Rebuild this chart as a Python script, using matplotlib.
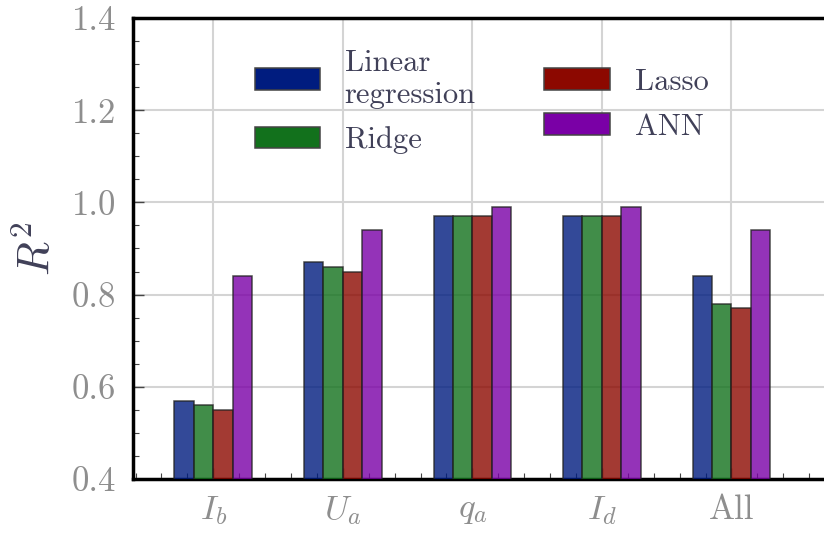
import matplotlib
matplotlib.use("Agg")
import numpy as np
import matplotlib.pyplot as plt
from matplotlib.ticker import MultipleLocator, FormatStrFormatter

# ====================================
# Data
# ====================================

categories = [r"$I_b$", r"$U_a$", r"$q_a$", r"$I_d$", "All"]

linear_r2 = [0.57, 0.87, 0.97, 0.97, 0.84]
ridge_r2 = [0.56, 0.86, 0.97, 0.97, 0.78]
lasso_r2 = [0.55, 0.85, 0.97, 0.97, 0.77]
ann_r2 = [0.84, 0.94, 0.99, 0.99, 0.94]

model_names = ["Linear\nregression", "Ridge", "Lasso", "ANN"]
model_colors = ["#001c7f", "#12711c", "#8c0800", "#7a00a6"]

# ====================================
# Style
# ====================================

plt.rcParams["font.family"] = "cmr10"
plt.rcParams["mathtext.fontset"] = "cm"
plt.rcParams["axes.unicode_minus"] = False
plt.rcParams["axes.formatter.use_mathtext"] = True

# ====================================
# Plot
# ====================================

fig = plt.figure(figsize=(8.24, 5.33), dpi=100)
ax = fig.add_axes([133 / 824, 54 / 533, 715 / 824, 461 / 533])

x = np.arange(len(categories))
width = 0.15
series = [linear_r2, ridge_r2, lasso_r2, ann_r2]

for j, values in enumerate(series):
    ax.bar(x + (j - 1.5) * width, values, width,
           color=model_colors[j], alpha=0.8,
           edgecolor="#222222", linewidth=1.1,
           label=model_names[j], zorder=3)

ax.set_xlim(-0.62, 4.9)
ax.set_ylim(0.4, 1.4)

ax.set_xticks(x)
ax.set_xticklabels(categories)
ax.xaxis.set_minor_locator(MultipleLocator(0.2))
ax.yaxis.set_major_locator(MultipleLocator(0.2))
ax.yaxis.set_minor_locator(MultipleLocator(0.05))
ax.yaxis.set_major_formatter(FormatStrFormatter("%.1f"))

ax.tick_params(axis="both", which="major", direction="in", length=8,
               width=1.0, color="#444444", labelsize=25,
               labelcolor="#8e8e8e")
ax.tick_params(axis="both", which="minor", direction="in", length=4,
               width=0.8, color="#444444")
ax.tick_params(axis="y", which="major", pad=12)
ax.tick_params(axis="x", which="major", pad=11)

ax.grid(True, which="major", color="#d4d4d4", linewidth=1.5, zorder=0)
ax.set_axisbelow(True)

for side in ["left", "bottom", "top", "right"]:
    ax.spines[side].set_linewidth(2.5)
    ax.spines[side].set_color("black")

ax.set_ylabel(r"$R^2$", fontsize=32, color="#404058", labelpad=9)

leg = ax.legend(ncol=2, loc="upper left", bbox_to_anchor=(0.17, 0.932),
                frameon=False, fontsize=22, handlelength=2.15,
                handleheight=0.7, handletextpad=0.8, columnspacing=2.25,
                labelspacing=0.58, borderpad=0, borderaxespad=0)
for t in leg.get_texts():
    t.set_color("#404058")
for h in leg.legend_handles:
    h.set_alpha(1.0)
    h.set_edgecolor("#444444")

fig.savefig("out.png", dpi=100)
